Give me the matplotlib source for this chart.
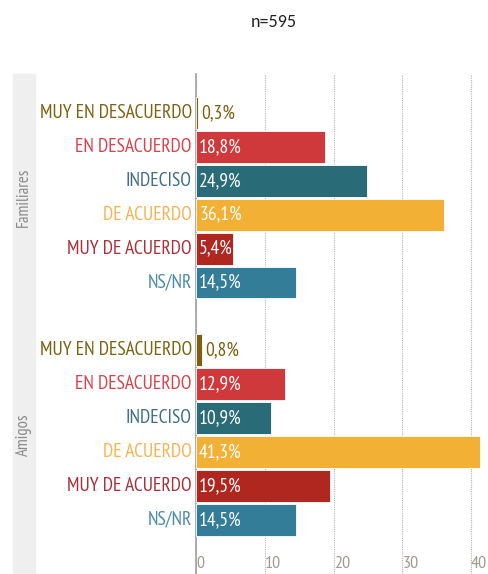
import numpy as np
import matplotlib.pyplot as plt
from matplotlib.patches import Rectangle
from matplotlib.transforms import blended_transform_factory

categories = ["MUY EN DESACUERDO", "EN DESACUERDO", "INDECISO",
              "DE ACUERDO", "MUY DE ACUERDO", "NS/NR"]
groups = ["Familiares", "Amigos"]
familiares = [0.3, 18.8, 24.9, 36.1, 5.4, 14.5]
amigos = [0.8, 12.9, 10.9, 41.3, 19.5, 14.5]
title = "n=595"

colors = ["#7a6010", "#d0393b", "#2a6b78", "#f2b035", "#b0271f", "#337d98"]
label_colors = ["#7a6312", "#d8434d", "#3e6f85", "#f5b454", "#a8303a", "#4a8ca8"]

font = ["PT Sans Narrow", "DejaVu Sans"]

fig = plt.figure(figsize=(4.89, 5.74), dpi=100)
ax = fig.add_axes([196 / 489, 0, 1 - 196 / 489, 1 - 74 / 574])
trans = blended_transform_factory(fig.transFigure, ax.transData)

for g, vals in enumerate([familiares, amigos]):
    pos = np.arange(len(categories)) + g * (len(categories) + 1)
    ax.barh(pos, vals, height=0.94, color=colors, edgecolor="white", linewidth=0.6, zorder=3)
    for p, v, cat, c, lc in zip(pos, vals, categories, colors, label_colors):
        ax.text(-0.6, p, cat, ha="right", va="center", fontsize=14, color=lc,
                family=font, clip_on=False)
        if v > 3:
            x, tc = 0.45, "white"
        else:
            x, tc = v + 0.5, c
        ax.text(x, p, f"{v:.1f}%".replace(".", ","), ha="left", va="center",
                fontsize=14, color=tc, family=font, zorder=4)
    ax.text(24 / 489, pos.mean(), groups[g], transform=trans, rotation=90, ha="center",
            va="center", fontsize=12, color="#8a8a8a", family=font, zorder=5)

fig.patches.append(Rectangle((13 / 489, 0), 22 / 489, 1 - 74 / 574,
                             transform=fig.transFigure, color="#efefef", zorder=-1))

ax.set_xlim(0, 42.6)
ax.set_ylim(13.6, -1.15)
ax.set_yticks([])
ax.set_xticks([0, 10, 20, 30, 40])
ax.set_xticklabels(["0", "10", "20", "30", "40"], family=font, fontsize=13, color="#a09a90")
for lbl in ax.get_xticklabels():
    lbl.set_ha("left")
ax.tick_params(axis="x", length=0, pad=-13)
ax.grid(axis="x", color="#b5b5b5", linestyle=(0, (1, 1)), linewidth=0.8, zorder=0)
for s in ["top", "right", "bottom"]:
    ax.spines[s].set_visible(False)
ax.spines["left"].set_color("#a0a0a0")
ax.spines["left"].set_linewidth(1.2)
ax.set_facecolor("none")

fig.text(274 / 489, 1 - 22 / 574, title, ha="center", va="center", fontsize=13,
         family=["Carlito", "DejaVu Sans"], color="#222222")

fig.savefig("out.png", dpi=100)
